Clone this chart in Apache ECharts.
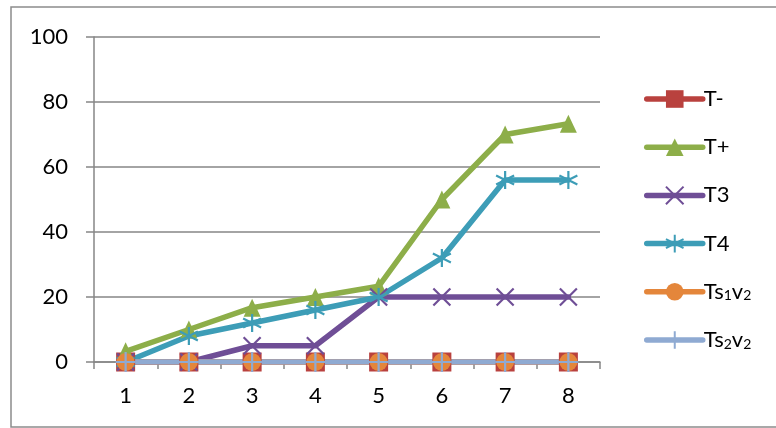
<!DOCTYPE html>
<html>
<head>
<meta charset="utf-8">
<script src="https://cdn.jsdelivr.net/npm/echarts@6/dist/echarts.min.js"></script>
<style>
  html, body { margin: 0; padding: 0; background: #fff; }
  #chart { width: 776px; height: 428px; }
</style>
</head>
<body>
<div id="chart"></div>
<script>
// Categories and series values
const categories = ['1', '2', '3', '4', '5', '6', '7', '8'];
const seriesNames = ['T-', 'T+', 'T3', 'T4', 'Ts1v2', 'Ts2v2'];
const tMinus = [0, 0, 0, 0, 0, 0, 0, 0];
const tPlus  = [3.3, 10, 16.7, 20, 23.3, 50, 70, 73.3];
const t3     = [0, 0, 5, 5, 20, 20, 20, 20];
const t4     = [0, 8, 12, 16, 20, 32, 56, 56];
const ts1v2  = [0, 0, 0, 0, 0, 0, 0, 0];
const ts2v2  = [0, 0, 0, 0, 0, 0, 0, 0];
const yTicks = [0, 20, 40, 60, 80, 100];

const FONT = 'Lato, "Open Sans", sans-serif';
const GRAY = '#868686';

const crossPath = 'path://M0,0L10,10M10,0L0,10';
const starPath = 'path://M5,0L5,10M0.7,2.5L9.3,7.5M0.7,7.5L9.3,2.5';
const plusPath = 'path://M5,0L5,10M0,5L10,5';

function lineSeries(name, data, color, symbol, size, stroked) {
  return {
    name: name,
    type: 'line',
    data: data,
    symbol: symbol,
    symbolSize: size,
    showAllSymbol: true,
    lineStyle: { color: color, width: 5.5, cap: 'round', join: 'round' },
    itemStyle: stroked
      ? { color: 'rgba(0,0,0,0)', borderColor: color, borderWidth: 2.2 }
      : { color: color, borderWidth: 0 },
    emphasis: { disabled: true },
    animation: false
  };
}

const chart = echarts.init(document.getElementById('chart'), null, { renderer: 'canvas' });
chart.setOption({
  backgroundColor: '#fff',
  animation: false,
  graphic: [{
    type: 'rect',
    shape: { x: 11, y: 7, width: 800, height: 420 },
    style: { fill: 'none', stroke: '#8c8c8c', lineWidth: 1.5 },
    silent: true
  }],
  grid: { left: 94, right: 176, top: 37, bottom: 66, containLabel: false },
  legend: {
    orient: 'vertical',
    left: 639,
    top: 83,
    itemWidth: 56,
    itemHeight: 22,
    itemGap: 26.2,
    data: seriesNames,
    lineStyle: { width: 5.5, cap: 'round' },
    textStyle: {
      fontFamily: FONT, fontSize: 22, color: '#000', padding: [0, 0, 0, -4],
      rich: {
        a: { fontFamily: FONT, fontSize: 22, color: '#000' },
        s: { fontFamily: FONT, fontSize: 14, color: '#000', padding: [8, 0, 0, 0] }
      }
    },
    formatter: function (n) {
      if (n === 'Ts1v2') return '{a|Ts}{s|1}{a|v}{s|2}';
      if (n === 'Ts2v2') return '{a|Ts}{s|2}{a|v}{s|2}';
      return n;
    }
  },
  xAxis: {
    type: 'category',
    data: categories,
    boundaryGap: true,
    axisLine: { lineStyle: { color: GRAY, width: 1.5 } },
    axisTick: { show: true, length: 7, lineStyle: { color: GRAY, width: 1.5 } },
    axisLabel: { fontFamily: FONT, fontSize: 22, color: '#000', margin: 23 },
    splitLine: { show: false }
  },
  yAxis: {
    type: 'value',
    min: yTicks[0],
    max: yTicks[yTicks.length - 1],
    interval: 20,
    axisLine: { show: true, lineStyle: { color: GRAY, width: 1.5 } },
    axisTick: { show: true, length: 8, lineStyle: { color: GRAY, width: 1.5 } },
    axisLabel: { fontFamily: FONT, fontSize: 22, color: '#000', margin: 26 },
    splitLine: { show: true, lineStyle: { color: GRAY, width: 1.5 } }
  },
  series: [
    lineSeries('T-', tMinus, '#B9413E', 'rect', 19, false),
    lineSeries('T+', tPlus, '#8DAE49', 'triangle', [17, 18], false),
    lineSeries('T3', t3, '#6F4E96', crossPath, 17, true),
    lineSeries('T4', t4, '#3D9DB7', starPath, 18, true),
    lineSeries('Ts1v2', ts1v2, '#E4863B', 'circle', 18, false),
    lineSeries('Ts2v2', ts2v2, '#8FAAD2', plusPath, 20, true)
  ]
});
</script>
</body>
</html>
